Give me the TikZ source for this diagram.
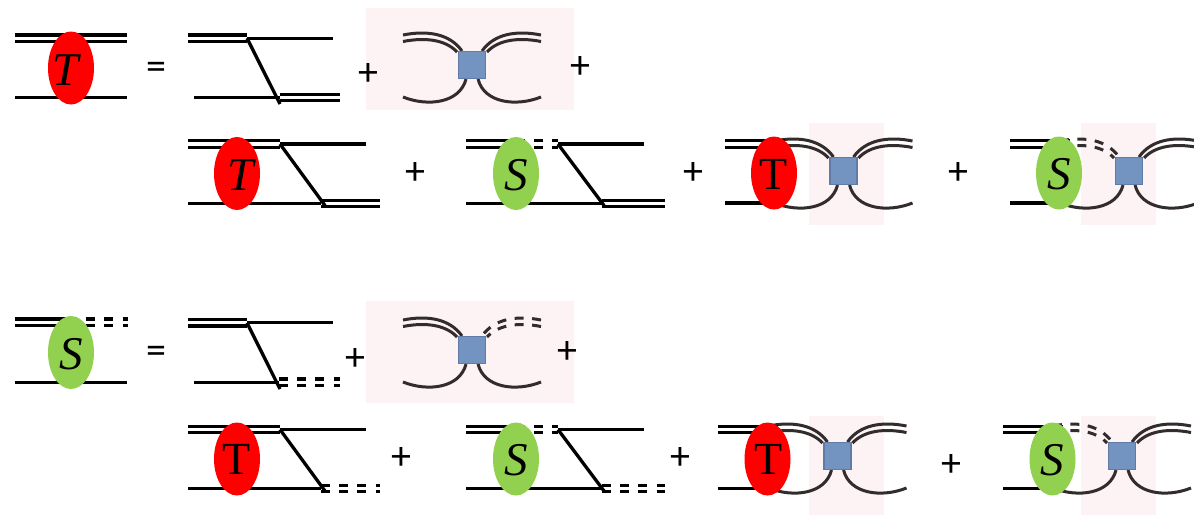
\documentclass[tikz,border=0pt]{standalone}
\usepackage{fontspec}
\usetikzlibrary{shapes.geometric}
\setmainfont{Liberation Serif}
\newfontfamily\opfont{Carlito}
\definecolor{blobred}{HTML}{FF0000}
\definecolor{blobgreen}{HTML}{92D050}
\definecolor{boxblue}{HTML}{7394C0}
\definecolor{boxedge}{HTML}{5F7BA6}
\definecolor{pinkbg}{HTML}{FDF3F4}
\definecolor{curveink}{HTML}{332C2C}
\tikzset{
  ln/.style={line width=3.3pt,black},
  dsh/.style={ln,dash pattern=on 9pt off 9.2pt},
  cv/.style={line width=3pt,curveink},
  cvd/.style={cv,dash pattern=on 9pt off 8.5pt},
  blob/.style={ellipse,minimum width=46pt,minimum height=73pt,inner sep=0pt,text=black,font=\fontsize{47}{47}\selectfont},
  Tblob/.style={blob,fill=blobred},
  Sblob/.style={blob,fill=blobgreen},
  bluebox/.style={draw=boxedge,fill=boxblue,line width=1.6pt,minimum size=27pt,inner sep=0pt},
  oper/.style={inner sep=0pt,font=\opfont\fontsize{40}{40}\selectfont},
  pinkpanel/.style={fill=pinkbg,draw=none}
}
% double straight line between two named coordinates
\newcommand\dline[3]{%
  \draw[#1] ([yshift=3.2pt]#2) -- ([yshift=3.2pt]#3);
  \draw[#1] ([yshift=-3.2pt]#2) -- ([yshift=-3.2pt]#3);}
% id, top start, break x, top end, bottom start, bottom break x, bottom end, ytop, ybot
\newcommand\ladder[9]{%
  \coordinate (#1-a) at (#2,#8);
  \coordinate (#1-b) at (#3,#8);
  \coordinate (#1-c) at (#4,#8);
  \coordinate (#1-d) at (#5,#9);
  \coordinate (#1-e) at (#6,#9);
  \coordinate (#1-f) at (#7,#9);
  \draw[ln] (#1-b) -- (#1-c);
  \draw[ln] (#1-d) -- (#1-e);}
\newcommand\halfvertex[1]{%
  \draw[#1] (-69,-30) .. controls (-44,-35) and (-22,-31) .. (-10,-14);
  \draw[#1] (-69,-23.5) .. controls (-46,-28) and (-26,-25) .. (-15,-13);
  \draw[cv] (-69,32) .. controls (-44,42) and (-12,38) .. (-6,14);}
% id, cx, cy, left style, right style
\newcommand\vertexat[5]{%
  \begin{scope}[shift={(#2,#3)}]
    \halfvertex{#4}
    \begin{scope}[xscale=-1]\halfvertex{#5}\end{scope}
    \node[bluebox] (#1) at (0,0) {};
  \end{scope}}
\begin{document}
\begin{tikzpicture}[x=1pt,y=-1pt]
\useasboundingbox (0,0) rectangle (1194,515);
\clip (0,0) rectangle (1194,515);
% panels
\fill[pinkpanel] (366,8) rectangle (574,110);
\fill[pinkpanel] (809,123) rectangle (884,225);
\fill[pinkpanel] (1081,123) rectangle (1156,225);
\fill[pinkpanel] (366,301) rectangle (574,403);
\fill[pinkpanel] (809,416) rectangle (884,515);
\fill[pinkpanel] (1081,416) rectangle (1156,515);

% ---------- T equation, first row
\coordinate (a1) at (15,38.2); \coordinate (a2) at (127,38.2);
\coordinate (a3) at (15,97.5); \coordinate (a4) at (127,97.5);
\dline{ln}{a1}{a2}
\draw[ln] (a3) -- (a4);
\node[Tblob] (tA) at (71,68) {};
\node[inner sep=0pt,font=\fontsize{47}{47}\selectfont\itshape] (tAl) at (66,70) {T};
\node[oper] (eq1) at (156,71) {=};

\ladder{b}{188}{247}{333}{194}{280}{340}{38.2}{97.5}
\coordinate (b-g) at (280,104);
\dline{ln}{b-a}{b-b}
\draw[ln] (b-b) -- (b-g);
\dline{ln}{b-e}{b-f}
\node[oper] (p1) at (368,74.5) {+};

\vertexat{v1}{472}{65}{cv}{cv}
\node[oper] (p2) at (580,67) {+};

% second row
\ladder{c}{188}{280}{366}{188}{321}{380}{144}{203.5}
\coordinate (c-g) at (325,205.5);
\dline{ln}{c-a}{c-b}
\draw[ln] (c-b) -- (c-g);
\dline{ln}{c-e}{c-f}
\node[Tblob] (tB) at (237,173.5) {};
\node[inner sep=0pt,font=\fontsize{47}{47}\selectfont\itshape] (tBl) at (241,175) {T};
\node[oper] (p3) at (415,173) {+};

\ladder{d}{466}{558}{644}{466}{602}{665}{144}{203.5}
\coordinate (d-g) at (604,205.5);
\coordinate (d-h) at (516,144);
\dline{ln}{d-a}{d-h}
\dline{dsh}{d-h}{d-b}
\draw[ln] (d-b) -- (d-g);
\dline{ln}{d-e}{d-f}
\node[Sblob] (sB) at (516,173.5) {};
\node[inner sep=0pt,font=\fontsize{47}{47}\selectfont\itshape] (sBl) at (516,175) {S};
\node[oper] (p4) at (693,173) {+};

\coordinate (e1) at (725,144); \coordinate (e2) at (785,144);
\coordinate (e3) at (725,203); \coordinate (e4) at (785,203);
\vertexat{v2}{843.5}{171}{cv}{cv}
\dline{ln}{e1}{e2}
\draw[ln] (e3) -- (e4);
\node[Tblob] (tC) at (774,173) {};
\node[inner sep=0pt,font=\fontsize{46}{46}\selectfont] (tCl) at (774,174) {T};
\node[oper] (p5) at (958,173) {+};

\coordinate (f1) at (1010,144); \coordinate (f2) at (1070,144);
\coordinate (f3) at (1010,203); \coordinate (f4) at (1070,203);
\vertexat{v3}{1129}{171}{cvd}{cv}
\dline{ln}{f1}{f2}
\draw[ln] (f3) -- (f4);
\node[Sblob] (sC) at (1059,173) {};
\node[inner sep=0pt,font=\fontsize{47}{47}\selectfont\itshape] (sCl) at (1059,174.5) {S};

% ---------- S equation, first row
\coordinate (g1) at (15,322.2); \coordinate (g2) at (68,322.2); \coordinate (g5) at (127.5,322.2);
\coordinate (g3) at (15,382.3); \coordinate (g4) at (127,382.3);
\dline{ln}{g1}{g2}
\dline{dsh}{g2}{g5}
\draw[ln] (g3) -- (g4);
\node[Sblob] (sA) at (71,352.5) {};
\node[inner sep=0pt,font=\fontsize{47}{47}\selectfont\itshape] (sAl) at (71,354) {S};
\node[oper] (eq2) at (156,355) {=};

\ladder{h}{188}{247}{333}{194}{279}{340}{322.8}{382.3}
\coordinate (h-g) at (280,389);
\dline{ln}{h-a}{h-b}
\draw[ln] (h-b) -- (h-g);
\dline{dsh}{h-e}{h-f}
\node[oper] (p6) at (355,359) {+};

\vertexat{v4}{472}{350}{cv}{cvd}
\node[oper] (p7) at (567,352) {+};

% second row
\ladder{i}{188}{280}{366}{188}{321}{380}{429.5}{488.5}
\coordinate (i-g) at (325,491);
\dline{ln}{i-a}{i-b}
\draw[ln] (i-b) -- (i-g);
\dline{dsh}{i-e}{i-f}
\node[Tblob] (tD) at (237,459) {};
\node[inner sep=0pt,font=\fontsize{46}{46}\selectfont] (tDl) at (237,459.5) {T};
\node[oper] (p8) at (401,458) {+};

\ladder{j}{466}{558}{644}{466}{602}{665}{429.5}{488.5}
\coordinate (j-g) at (604,491);
\coordinate (j-h) at (516,429.5);
\dline{ln}{j-a}{j-h}
\dline{dsh}{j-h}{j-b}
\draw[ln] (j-b) -- (j-g);
\dline{dsh}{j-e}{j-f}
\node[Sblob] (sD) at (516,459) {};
\node[inner sep=0pt,font=\fontsize{47}{47}\selectfont\itshape] (sDl) at (516,460.5) {S};
\node[oper] (p9) at (680,458) {+};

\coordinate (k1) at (717.5,429.5); \coordinate (k2) at (778,429.5);
\coordinate (k3) at (717.5,488.5); \coordinate (k4) at (778,488.5);
\vertexat{v5}{837.5}{456}{cv}{cv}
\dline{ln}{k1}{k2}
\draw[ln] (k3) -- (k4);
\node[Tblob] (tE) at (767.5,459) {};
\node[inner sep=0pt,font=\fontsize{46}{46}\selectfont] (tEl) at (769,459.5) {T};
\node[oper] (p10) at (951.5,465) {+};

\coordinate (l1) at (1003,429.5); \coordinate (l2) at (1063,429.5);
\coordinate (l3) at (1003,488.5); \coordinate (l4) at (1063,488.5);
\vertexat{v6}{1122}{456}{cvd}{cv}
\dline{ln}{l1}{l2}
\draw[ln] (l3) -- (l4);
\node[Sblob] (sE) at (1052.5,459) {};
\node[inner sep=0pt,font=\fontsize{47}{47}\selectfont\itshape] (sEl) at (1052.5,460.5) {S};
\end{tikzpicture}
\end{document}
